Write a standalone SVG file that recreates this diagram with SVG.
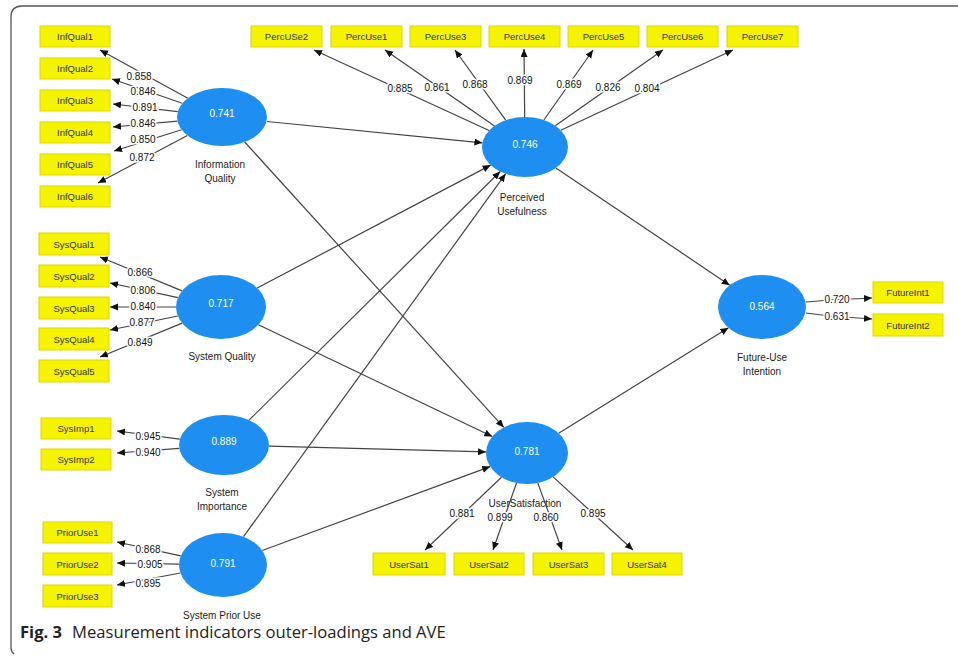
<svg xmlns="http://www.w3.org/2000/svg" width="958" height="658" viewBox="0 0 958 658">
<defs>
<marker id="ah" markerUnits="userSpaceOnUse" markerWidth="9" markerHeight="8" refX="8" refY="3.5" orient="auto">
<path d="M0,0 L8,3.5 L0,7 z" fill="#111"/>
</marker>
<style>
.frame{fill:none;stroke:#555;stroke-width:1.3}
.box{fill:#f6f300;stroke:#dcd800;stroke-width:1}
.btxt{font-family:"Liberation Sans",Arial,sans-serif;font-size:9.5px;fill:#333;text-anchor:middle;dominant-baseline:central}
.lv{fill:#1e8ff0}
.lvtxt{font-family:"Liberation Sans",Arial,sans-serif;font-size:10px;fill:#fff;text-anchor:middle;dominant-baseline:central}
.name{font-family:"Liberation Sans",Arial,sans-serif;font-size:10px;fill:#222;text-anchor:middle}
.ln{stroke:#444;stroke-width:1.2;fill:none;marker-end:url(#ah)}
.lab{font-family:"Liberation Sans",Arial,sans-serif;font-size:10px;fill:#111;text-anchor:middle;dominant-baseline:central;stroke:#fff;stroke-width:3;paint-order:stroke}
.cap{font-family:"Open Sans","Liberation Sans",Arial,sans-serif;font-size:16.6px;fill:#222}
</style>
</defs>
<rect width="958" height="658" fill="#fff"/>
<path class="frame" d="M958,6 H22 Q11,6 11,17 V648 Q11,652 14,654"/>

<g id="connectors">
<line class="ln" x1="187.8" y1="98.2" x2="100" y2="50"/>
<line class="ln" x1="182.3" y1="103.3" x2="112" y2="79"/>
<line class="ln" x1="177.7" y1="111.7" x2="113" y2="104"/>
<line class="ln" x1="177.4" y1="121.1" x2="113" y2="127"/>
<line class="ln" x1="181.6" y1="129.7" x2="114" y2="151"/>
<line class="ln" x1="187.3" y1="135.5" x2="98" y2="183"/>
<line class="ln" x1="182.1" y1="290.9" x2="100" y2="257"/>
<line class="ln" x1="178" y1="297.7" x2="110" y2="283"/>
<line class="ln" x1="176" y1="307" x2="110" y2="307"/>
<line class="ln" x1="177.8" y1="316" x2="110" y2="330"/>
<line class="ln" x1="182.1" y1="323.1" x2="100" y2="357"/>
<line class="ln" x1="179.8" y1="439.2" x2="117" y2="431"/>
<line class="ln" x1="179.3" y1="448.3" x2="117" y2="453"/>
<line class="ln" x1="180.8" y1="555.9" x2="117" y2="542"/>
<line class="ln" x1="179" y1="564.2" x2="117" y2="563"/>
<line class="ln" x1="180.4" y1="573" x2="117" y2="585"/>
<line class="ln" x1="489.1" y1="130.5" x2="314" y2="50"/>
<line class="ln" x1="494.5" y1="125.9" x2="385" y2="50"/>
<line class="ln" x1="505.7" y1="120.2" x2="455" y2="50"/>
<line class="ln" x1="524.7" y1="117" x2="524" y2="49"/>
<line class="ln" x1="543.9" y1="120" x2="593" y2="50"/>
<line class="ln" x1="555.3" y1="125.7" x2="663" y2="50"/>
<line class="ln" x1="560.8" y1="130.3" x2="733" y2="50"/>
<line class="ln" x1="501.5" y1="477.3" x2="425" y2="550"/>
<line class="ln" x1="516.5" y1="483" x2="493" y2="550"/>
<line class="ln" x1="537.8" y1="482.9" x2="562" y2="550"/>
<line class="ln" x1="553.1" y1="476.9" x2="633" y2="550"/>
<polyline class="ln" points="806,302 830,300 872,298"/>
<polyline class="ln" points="806,313 830,316 872,319"/>
<line class="ln" x1="267" y1="121.5" x2="482.4" y2="142.8"/>
<line class="ln" x1="244.7" y1="142" x2="503.8" y2="427.4"/>
<line class="ln" x1="257.2" y1="288" x2="490.7" y2="165.1"/>
<line class="ln" x1="258.4" y1="324.8" x2="492.3" y2="436.5"/>
<line class="ln" x1="249.1" y1="420.1" x2="500.2" y2="171.5"/>
<line class="ln" x1="269" y1="446.2" x2="486" y2="451.9"/>
<line class="ln" x1="243.5" y1="536.7" x2="505.6" y2="173.8"/>
<line class="ln" x1="262.2" y1="550.5" x2="490.2" y2="466.6"/>
<line class="ln" x1="555.9" y1="167.9" x2="729.7" y2="285.2"/>
<line class="ln" x1="558.7" y1="433.3" x2="728.5" y2="327.8"/>
<text class="lab" x="139" y="76">0.858</text>
<text class="lab" x="143" y="91">0.846</text>
<text class="lab" x="145" y="107">0.891</text>
<text class="lab" x="143" y="123">0.846</text>
<text class="lab" x="143" y="139">0.850</text>
<text class="lab" x="142" y="157">0.872</text>
<text class="lab" x="140" y="272">0.866</text>
<text class="lab" x="143" y="290">0.806</text>
<text class="lab" x="143" y="306">0.840</text>
<text class="lab" x="142" y="322">0.877</text>
<text class="lab" x="140" y="342">0.849</text>
<text class="lab" x="148" y="436">0.945</text>
<text class="lab" x="148" y="452">0.940</text>
<text class="lab" x="148" y="549">0.868</text>
<text class="lab" x="150" y="564">0.905</text>
<text class="lab" x="148" y="583">0.895</text>
<text class="lab" x="400" y="88">0.885</text>
<text class="lab" x="437" y="87">0.861</text>
<text class="lab" x="475" y="84">0.868</text>
<text class="lab" x="520" y="80">0.869</text>
<text class="lab" x="569" y="84">0.869</text>
<text class="lab" x="608" y="87">0.826</text>
<text class="lab" x="647" y="88">0.804</text>
<text class="lab" x="462" y="513">0.881</text>
<text class="lab" x="500" y="517">0.899</text>
<text class="lab" x="546" y="517">0.860</text>
<text class="lab" x="593" y="513">0.895</text>
<text class="lab" x="837" y="299">0.720</text>
<text class="lab" x="837" y="316">0.631</text>
</g>

<g id="InformationQuality"><ellipse class="lv" cx="222" cy="117" rx="45" ry="29"/><text class="lvtxt" x="222" y="113">0.741</text><text class="name" x="220" y="168">Information</text><text class="name" x="220" y="182">Quality</text></g>
<g id="SystemQuality"><ellipse class="lv" cx="221" cy="307" rx="45" ry="32"/><text class="lvtxt" x="221" y="303">0.717</text><text class="name" x="222" y="360">System Quality</text></g>
<g id="SystemImportance"><ellipse class="lv" cx="224" cy="445" rx="45" ry="30"/><text class="lvtxt" x="224" y="441">0.889</text><text class="name" x="222" y="496">System</text><text class="name" x="222" y="510">Importance</text></g>
<g id="SystemPriorUse"><ellipse class="lv" cx="223" cy="565" rx="44" ry="32"/><text class="lvtxt" x="223" y="563">0.791</text><text class="name" x="222" y="619">System Prior Use</text></g>
<g id="PerceivedUsefulness"><ellipse class="lv" cx="525" cy="147" rx="43" ry="30"/><text class="lvtxt" x="525" y="144">0.746</text><text class="name" x="522" y="201">Perceived</text><text class="name" x="522" y="215">Usefulness</text></g>
<g id="UserSatisfaction"><ellipse class="lv" cx="527" cy="453" rx="41" ry="31"/><text class="lvtxt" x="527" y="451">0.781</text><text class="name" x="525" y="507">UserSatisfaction</text></g>
<g id="FutureUseIntention"><ellipse class="lv" cx="762" cy="307" rx="44" ry="32"/><text class="lvtxt" x="762" y="306">0.564</text><text class="name" x="762" y="361">Future-Use</text><text class="name" x="762" y="375">Intention</text></g>

<g id="InfQual1"><rect class="box" x="40" y="26" width="70" height="21"/><text class="btxt" x="75" y="36.5">InfQual1</text></g>
<g id="InfQual2"><rect class="box" x="40" y="58" width="70" height="21"/><text class="btxt" x="75" y="68.5">InfQual2</text></g>
<g id="InfQual3"><rect class="box" x="40" y="90" width="70" height="21"/><text class="btxt" x="75" y="100.5">InfQual3</text></g>
<g id="InfQual4"><rect class="box" x="40" y="122" width="70" height="21"/><text class="btxt" x="75" y="132.5">InfQual4</text></g>
<g id="InfQual5"><rect class="box" x="40" y="154" width="70" height="21"/><text class="btxt" x="75" y="164.5">InfQual5</text></g>
<g id="InfQual6"><rect class="box" x="40" y="186" width="70" height="21"/><text class="btxt" x="75" y="196.5">InfQual6</text></g>

<g id="SysQual1"><rect class="box" x="39" y="233" width="70" height="22"/><text class="btxt" x="74" y="244">SysQual1</text></g>
<g id="SysQual2"><rect class="box" x="39" y="265" width="70" height="22"/><text class="btxt" x="74" y="276">SysQual2</text></g>
<g id="SysQual3"><rect class="box" x="39" y="297" width="70" height="22"/><text class="btxt" x="74" y="308">SysQual3</text></g>
<g id="SysQual4"><rect class="box" x="39" y="328" width="70" height="22"/><text class="btxt" x="74" y="339">SysQual4</text></g>
<g id="SysQual5"><rect class="box" x="39" y="360" width="70" height="22"/><text class="btxt" x="74" y="371">SysQual5</text></g>

<g id="SysImp1"><rect class="box" x="41" y="418" width="70" height="21"/><text class="btxt" x="76" y="428.5">SysImp1</text></g>
<g id="SysImp2"><rect class="box" x="41" y="449" width="70" height="21"/><text class="btxt" x="76" y="459.5">SysImp2</text></g>

<g id="PriorUse1"><rect class="box" x="43" y="522" width="69" height="21"/><text class="btxt" x="77.5" y="532.5">PriorUse1</text></g>
<g id="PriorUse2"><rect class="box" x="43" y="553" width="69" height="22"/><text class="btxt" x="77.5" y="564">PriorUse2</text></g>
<g id="PriorUse3"><rect class="box" x="43" y="585" width="69" height="22"/><text class="btxt" x="77.5" y="596">PriorUse3</text></g>

<g id="PercUSe2"><rect class="box" x="251" y="26" width="71" height="21"/><text class="btxt" x="286.5" y="36.5">PercUSe2</text></g>
<g id="PercUse1"><rect class="box" x="331" y="26" width="71" height="21"/><text class="btxt" x="366.5" y="36.5">PercUse1</text></g>
<g id="PercUse3"><rect class="box" x="410" y="26" width="71" height="21"/><text class="btxt" x="445.5" y="36.5">PercUse3</text></g>
<g id="PercUse4"><rect class="box" x="489" y="26" width="71" height="21"/><text class="btxt" x="524.5" y="36.5">PercUse4</text></g>
<g id="PercUse5"><rect class="box" x="568" y="26" width="71" height="21"/><text class="btxt" x="603.5" y="36.5">PercUse5</text></g>
<g id="PercUse6"><rect class="box" x="647" y="26" width="71" height="21"/><text class="btxt" x="682.5" y="36.5">PercUse6</text></g>
<g id="PercUse7"><rect class="box" x="727" y="26" width="71" height="21"/><text class="btxt" x="762.5" y="36.5">PercUse7</text></g>

<g id="UserSat1"><rect class="box" x="373" y="553" width="72" height="22"/><text class="btxt" x="409" y="564">UserSat1</text></g>
<g id="UserSat2"><rect class="box" x="454" y="553" width="70" height="22"/><text class="btxt" x="489" y="564">UserSat2</text></g>
<g id="UserSat3"><rect class="box" x="533" y="553" width="71" height="22"/><text class="btxt" x="568.5" y="564">UserSat3</text></g>
<g id="UserSat4"><rect class="box" x="612" y="553" width="70" height="22"/><text class="btxt" x="647" y="564">UserSat4</text></g>

<g id="FutureInt1"><rect class="box" x="873" y="282" width="70" height="21"/><text class="btxt" x="908" y="292.5">FutureInt1</text></g>
<g id="FutureInt2"><rect class="box" x="873" y="314" width="70" height="22"/><text class="btxt" x="908" y="325">FutureInt2</text></g>

<text class="cap" x="20" y="638"><tspan font-weight="bold">Fig. 3</tspan><tspan dx="10">Measurement indicators outer-loadings and AVE</tspan></text>
</svg>
